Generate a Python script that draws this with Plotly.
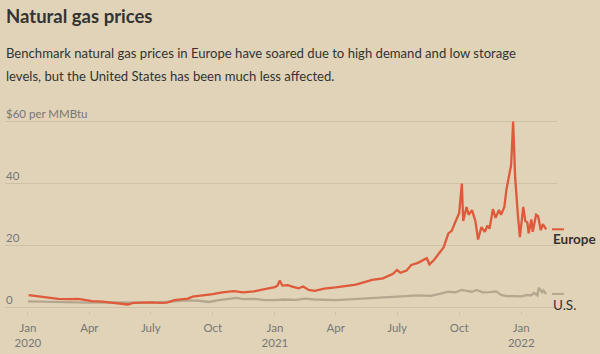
import plotly.graph_objects as go

# ---- Data ----
eu_dates = ["2020-01-02","2020-01-10","2020-01-20","2020-02-01","2020-02-15","2020-03-01","2020-03-15","2020-03-25",
            "2020-04-05","2020-04-20","2020-05-05","2020-05-20","2020-05-28","2020-06-05","2020-06-20","2020-07-01",
            "2020-07-15","2020-07-25","2020-08-05","2020-08-15","2020-08-25","2020-09-01","2020-09-10","2020-09-20",
            "2020-10-01","2020-10-15","2020-11-01","2020-11-15","2020-12-01","2020-12-15","2021-01-01","2021-01-05",
            "2021-01-08","2021-01-12","2021-01-20","2021-01-28","2021-02-05","2021-02-12","2021-02-20","2021-03-01",
            "2021-03-15","2021-04-01","2021-04-15","2021-05-01","2021-05-15","2021-05-25","2021-06-10","2021-06-25",
            "2021-07-01","2021-07-06","2021-07-15","2021-07-22","2021-08-01","2021-08-10","2021-08-14","2021-08-18",
            "2021-08-25","2021-09-01","2021-09-08","2021-09-15","2021-09-20","2021-09-25","2021-10-01","2021-10-05",
            "2021-10-07","2021-10-12","2021-10-15","2021-10-20","2021-10-25","2021-10-29","2021-11-03","2021-11-08",
            "2021-11-12","2021-11-15","2021-11-20","2021-11-24","2021-11-29","2021-12-02","2021-12-07","2021-12-10",
            "2021-12-14","2021-12-17","2021-12-20","2021-12-23","2021-12-27","2021-12-30","2022-01-04","2022-01-07",
            "2022-01-10","2022-01-12","2022-01-16","2022-01-18","2022-01-23","2022-01-26","2022-01-30","2022-02-02",
            "2022-02-07"]
eu_values = [4.1,3.9,3.6,3.3,2.9,2.8,2.9,2.6,
             2.2,2.0,1.7,1.3,1.1,1.6,1.7,1.8,
             1.6,1.7,2.5,2.8,3.0,3.6,3.8,4.0,
             4.4,5.0,5.4,5.0,5.3,6.0,6.7,7.2,
             8.8,7.2,7.3,6.8,6.3,6.9,5.8,5.5,
             6.2,6.6,7.0,7.5,8.4,9.0,9.5,11.0,
             12.2,11.3,12.0,13.8,14.5,15.5,16.0,14.0,
             15.5,17.5,19.5,24.0,24.8,27.5,30.5,40.0,
             28.0,32.5,30.0,31.5,28.0,22.0,26.0,24.5,
             26.5,25.5,31.8,29.0,31.5,30.0,32.5,38.0,
             43.0,46.0,60.0,42.0,30.0,22.8,32.5,28.0,
             27.5,24.0,28.5,24.5,30.0,29.5,25.0,27.0,
             25.3]

us_dates = ["2020-01-01","2020-02-01","2020-03-01","2020-04-01","2020-05-01","2020-06-01","2020-07-01","2020-08-01",
            "2020-08-20","2020-09-10","2020-09-25","2020-10-10","2020-10-25","2020-11-05","2020-11-15","2020-12-01",
            "2020-12-15","2021-01-01","2021-01-15","2021-02-01","2021-02-15","2021-03-01","2021-04-01","2021-05-01",
            "2021-06-01","2021-07-01","2021-08-01","2021-08-20","2021-09-05","2021-09-15","2021-09-25","2021-10-05",
            "2021-10-12","2021-10-20","2021-10-27","2021-11-05","2021-11-15","2021-11-25","2021-12-02","2021-12-10",
            "2021-12-20","2022-01-01","2022-01-10","2022-01-15","2022-01-20","2022-01-25","2022-01-27","2022-02-01",
            "2022-02-03","2022-02-07"]
us_values = [2.1,1.9,1.8,1.7,1.8,1.7,1.7,2.0,
             2.4,2.3,1.9,2.5,3.0,3.2,2.8,2.9,
             2.6,2.5,2.7,2.6,3.0,2.7,2.5,2.8,
             3.1,3.6,4.0,3.9,4.7,5.2,5.0,5.8,
             5.5,5.2,5.8,5.0,5.1,5.3,4.2,3.8,
             3.8,3.7,4.2,4.0,4.8,4.0,6.5,5.0,
             5.6,4.5]

y_tickvals = [0, 20, 40, 60]
y_ticktext = ["0", "20", "40", "$60 per MMBtu"]
x_tickvals = ["2020-01-01","2020-04-01","2020-07-01","2020-10-01","2021-01-01","2021-04-01",
              "2021-07-01","2021-10-01","2022-01-01"]
x_ticktext = ["Jan<br>2020","Apr","July","Oct","Jan<br>2021","Apr","July","Oct","Jan<br>2022"]

EU_COLOR = "#df5a3b"
US_COLOR = "#b3a88f"
BG = "#e0d3b8"
GRID = "#cfc2a4"
TXT = "#333333"
TICK = "#777777"
FONT = "Lato"

W, H = 600, 354
ML, MR, MT, MB = 5, 43, 106, 41
ph = H - MT - MB
pw = W - ML - MR
def paper_y(py):
    return (H - MB - py) / ph
def paper_x(px):
    return (px - ML) / pw

fig = go.Figure()
fig.add_trace(go.Scatter(x=us_dates, y=us_values, mode="lines",
                         line=dict(color=US_COLOR, width=2.3), hoverinfo="skip"))
fig.add_trace(go.Scatter(x=eu_dates, y=eu_values, mode="lines",
                         line=dict(color=EU_COLOR, width=2.3), hoverinfo="skip"))

# end dashes at the last value of each series
for vals, col in [(eu_values, EU_COLOR), (us_values, US_COLOR)]:
    fig.add_shape(type="line", xref="paper", yref="y", x0=paper_x(552), x1=paper_x(564),
                  y0=vals[-1], y1=vals[-1], line=dict(color=col, width=2))

# y-axis labels sitting on top of the gridlines
for v, t in zip(y_tickvals, y_ticktext):
    fig.add_annotation(x=0, xref="paper", xanchor="left", xshift=-1, y=v, yref="y", yanchor="bottom",
                       yshift=0, text=t, showarrow=False,
                       font=dict(family=FONT, size=11.5, color=TICK))

fig.add_annotation(x=paper_x(551), xref="paper", xanchor="left", y=eu_values[-1], yref="y",
                   yanchor="top", yshift=0, text="<b>Europe</b>", showarrow=False,
                   font=dict(family=FONT, size=13.5, color=TXT))
fig.add_annotation(x=paper_x(551), xref="paper", xanchor="left", y=us_values[-1], yref="y",
                   yanchor="top", yshift=-1, text="U.S.", showarrow=False,
                   font=dict(family=FONT, size=13.5, color=TXT))

fig.add_annotation(x=paper_x(4), xref="paper", xanchor="left", y=paper_y(15), yref="paper", yanchor="middle",
                   text="<b>Natural gas prices</b>", showarrow=False,
                   font=dict(family=FONT, size=18.5, color=TXT))
fig.add_annotation(x=paper_x(4), xref="paper", xanchor="left", y=paper_y(52), yref="paper", yanchor="middle",
                   text="Benchmark natural gas prices in Europe have soared due to high demand and low storage",
                   showarrow=False, font=dict(family=FONT, size=13.1, color=TXT))
fig.add_annotation(x=paper_x(4), xref="paper", xanchor="left", y=paper_y(76), yref="paper", yanchor="middle",
                   text="levels, but the United States has been much less affected.",
                   showarrow=False, font=dict(family=FONT, size=13.1, color=TXT))

fig.update_layout(
    width=W, height=H, margin=dict(l=ML, r=MR, t=MT, b=MB),
    paper_bgcolor=BG, plot_bgcolor=BG, showlegend=False,
    xaxis=dict(type="date", range=["2019-11-28", "2022-02-23"], tickvals=x_tickvals, ticktext=x_ticktext,
               showgrid=False, zeroline=False, showline=False, ticks="outside", ticklen=3,
               tickcolor=GRID, tickfont=dict(family=FONT, size=11.5, color=TICK), ticklabelstandoff=3),
    yaxis=dict(range=[-1, 65], tickvals=y_tickvals, showticklabels=False, showgrid=True,
               gridcolor=GRID, gridwidth=1, zeroline=False, showline=False),
)

fig.write_html("out.html")
